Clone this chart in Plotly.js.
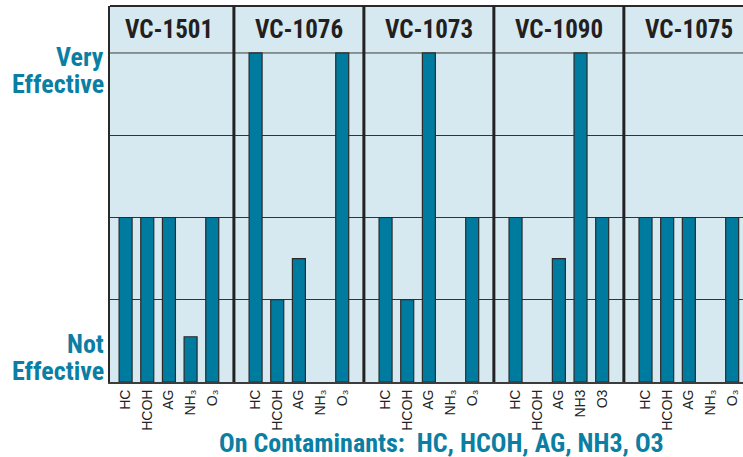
<!DOCTYPE html>
<html>
<head>
<meta charset="utf-8">
<script src="https://cdn.plot.ly/plotly-3.0.1.min.js"></script>
<style>html,body{margin:0;padding:0;background:#fff;}#chart{width:743px;height:457px;}</style>
</head>
<body>
<div id="chart"></div>
<script>
// ---- data ----
var products = ['VC-1501', 'VC-1076', 'VC-1073', 'VC-1090', 'VC-1075'];
var contaminants = ['HC', 'HCOH', 'AG', 'NH3', 'O3'];
var vc1501 = [2, 2, 2, 0.55, 2];
var vc1076 = [4, 1, 1.5, null, 4];
var vc1073 = [2, 1, 4, null, 2];
var vc1090 = [2, null, 1.5, 4, 2];
var vc1075 = [2, 2, 2, null, 2];
var labelsSub = ['HC', 'HCOH', 'AG', 'NH\u2083', 'O\u2083'];
var labelsPlain = ['HC', 'HCOH', 'AG', 'NH3', 'O3'];
var tickLabelSets = [labelsSub, labelsSub, labelsSub, labelsPlain, labelsSub];
var yLabelTop = ['Very', 'Effective'];
var yLabelBottom = ['Not', 'Effective'];
var xTitle = 'On Contaminants:  HC, HCOH, AG, NH3, O3';

var series = [vc1501, vc1076, vc1073, vc1090, vc1075];

// ---- build ----
var SLOTS = 6;
var TEAL = '#0a7ea3';
var BAR = '#007ba0';
var condensed = '"Liberation Sans Narrow", "Roboto Condensed", "Arial Narrow", "DejaVu Sans Condensed", sans-serif';

var traces = [];
var tickvals = [], ticktext = [];
series.forEach(function (vals, p) {
  var xs = vals.map(function (_, i) { return p * SLOTS + 1 + i; });
  traces.push({
    type: 'bar', x: xs, y: vals, width: 0.6,
    marker: { color: BAR, line: { color: '#2a2a2a', width: 1.2 } },
    hoverinfo: 'skip', showlegend: false
  });
  xs.forEach(function (x, i) { tickvals.push(x); ticktext.push(tickLabelSets[p][i]); });
});

var yTop = 4.571;
var shapes = [];
shapes.push({ type: 'line', xref: 'paper', yref: 'y', x0: 0, x1: 1, y0: 4, y1: 4, line: { color: '#3a3a3a', width: 1 } });
shapes.push({ type: 'line', xref: 'paper', yref: 'paper', x0: 0, x1: 1, y0: 1, y1: 1, line: { color: '#2a2a2a', width: 2 } });
for (var p = 1; p < products.length; p++) {
  shapes.push({ type: 'line', xref: 'x', yref: 'paper', x0: p * SLOTS, x1: p * SLOTS, y0: 0, y1: 1, line: { color: '#222', width: 3 } });
}

var annotations = [];
products.forEach(function (name, p) {
  annotations.push({
    text: '<b>' + name + '</b>', x: p * SLOTS + SLOTS / 2, y: (4 + yTop) / 2,
    xref: 'x', yref: 'y', showarrow: false, xanchor: 'center', yanchor: 'middle',
    font: { family: condensed, size: 25, color: '#231f20' }
  });
});
function ylab(txt, px) {
  annotations.push({
    text: '<b>' + txt + '</b>', xref: 'paper', yref: 'paper', x: 0, xshift: -4,
    y: (382 - px) / 376, xanchor: 'right', yanchor: 'middle', showarrow: false,
    font: { family: condensed, size: 26, color: TEAL }
  });
}
ylab(yLabelTop[0], 57);
ylab(yLabelTop[1], 84);
ylab(yLabelBottom[0], 344);
ylab(yLabelBottom[1], 371);
annotations.push({
  text: '<b>' + xTitle + '</b>', xref: 'paper', yref: 'paper', x: (441 - 110) / 633, y: 0,
  yshift: -61, xanchor: 'center', yanchor: 'middle', showarrow: false,
  font: { family: condensed, size: 26, color: TEAL }
});

var layout = {
  width: 743, height: 457,
  margin: { l: 110, r: 0, t: 6, b: 75, pad: 0 },
  paper_bgcolor: '#ffffff', plot_bgcolor: '#d7e9f0',
  bargap: 0,
  xaxis: {
    range: [0.28, 29.5], tickmode: 'array', tickvals: tickvals, ticktext: ticktext,
    tickangle: -90, ticks: '', showgrid: false, zeroline: false,
    showline: true, linecolor: '#3c3c3c', linewidth: 2,
    tickfont: { family: 'Liberation Sans, Arial, sans-serif', size: 14, color: '#222' }
  },
  yaxis: {
    range: [0, yTop], tickmode: 'array', tickvals: [1, 2, 3], showticklabels: false,
    ticks: '', showgrid: true, gridcolor: '#333', gridwidth: 1, zeroline: false,
    showline: true, linecolor: '#2a2a2a', linewidth: 2
  },
  shapes: shapes,
  annotations: annotations
};

Plotly.newPlot('chart', traces, layout, { displayModeBar: false, staticPlot: true });
</script>
</body>
</html>
